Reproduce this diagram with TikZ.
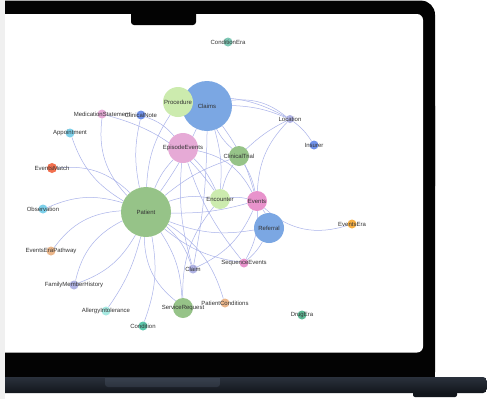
\documentclass[tikz,border=0pt]{standalone}
\usepackage{fontspec}
\newfontfamily\labfont{Liberation Sans}
\usetikzlibrary{backgrounds}
\pgfdeclarelayer{frame}
\pgfdeclarelayer{edges}
\pgfsetlayers{frame,edges,main}
\definecolor{edgec}{HTML}{AAB3EA}
\definecolor{labc}{HTML}{333333}
\definecolor{cBlue}{HTML}{7BA7E3}
\definecolor{cLGreen}{HTML}{CCEBAE}
\definecolor{cPink}{HTML}{E6AAD6}
\definecolor{cGreen}{HTML}{96C388}
\definecolor{cHot}{HTML}{E893CC}
\definecolor{cTeal}{HTML}{7EC9B6}
\definecolor{cBlue2}{HTML}{6F91EA}
\definecolor{cCyan}{HTML}{7DD0EA}
\definecolor{cLav}{HTML}{B0B3E4}
\definecolor{cRed}{HTML}{F2704F}
\definecolor{cOrange}{HTML}{F7B043}
\definecolor{cTan}{HTML}{EBB68A}
\definecolor{cLCyan}{HTML}{A7EAE2}
\definecolor{cDrug}{HTML}{5DB894}
\definecolor{cCond}{HTML}{5CC6AA}
\definecolor{lidc}{HTML}{030303}
\definecolor{basetop}{HTML}{2A313C}
\definecolor{basebot}{HTML}{12161C}
\definecolor{hingetop}{HTML}{3E4755}
\definecolor{hingebot}{HTML}{2C333E}
\definecolor{stripc}{HTML}{F0F0F0}
\tikzset{
  vx/.style={circle, inner sep=0pt, minimum size=#1},
  lab/.style={font=\labfont\fontsize{6}{7}\selectfont, text=labc, inner sep=0pt},
  edge/.style={draw=edgec, line width=0.5pt},
}
\begin{document}
\begin{tikzpicture}[x=1pt,y=-1pt]
\useasboundingbox (0,0) rectangle (487,399);
% ---------- laptop frame ----------
\begin{pgfonlayer}{frame}
\fill[white] (0,0) rectangle (487,399);
\fill[lidc, rounded corners=14pt] (-30,0.6) rectangle (435,200);
\fill[lidc, rounded corners=6pt] (-30,100) rectangle (435,378);
\fill[white, rounded corners=6pt] (-30,14) rectangle (423,352.5);
\fill[lidc, rounded corners=3pt] (131,8) rectangle (196,25);
\fill[basebot, rounded corners=2pt] (413,390) rectangle (457,397);
\shade[top color=basetop, bottom color=basebot, rounded corners=4pt] (-30,377) rectangle (487,393);
\shade[top color=hingetop, bottom color=hingebot, rounded corners=3pt] (105,373) rectangle (220,387);
\fill[basetop] (105,377) rectangle (220,377.6);
\fill[lidc] (-30,370) rectangle (435,377.2);
\fill[stripc] (0,0) rectangle (5,399);
\end{pgfonlayer}
% ---------- graph nodes ----------
\node[vx=9pt,  fill=cTeal,   label={[lab]center:ConditionEra}]        (cera)  at (228,42)  {};
\node[vx=50pt, fill=cBlue,   label={[lab]center:Claims}]              (claims) at (207,106) {};
\node[vx=30pt, fill=cLGreen, label={[lab]center:Procedure}]           (proc)  at (178,102) {};
\node[vx=9pt,  fill=cPink,   label={[lab]center:MedicationStatement}] (ms)    at (102,114) {};
\node[vx=9pt,  fill=cBlue2,  label={[lab]center:ClinicalNote}]        (cn)    at (141,115) {};
\node[vx=9pt,  fill=cCyan,   label={[lab]center:Appointment}]         (app)   at (70,133)  {};
\node[vx=8pt,  fill=cLav,    label={[lab]center:Location}]            (loc)   at (290,119) {};
\node[vx=9pt,  fill=cBlue2,  label={[lab]center:Insurer}]             (ins)   at (314,145) {};
\node[vx=30pt, fill=cPink,   label={[lab]center:EpisodeEvents}]       (epi)   at (183,148) {};
\node[vx=20pt, fill=cGreen,  label={[lab]center:ClinicalTrial}]       (ct)    at (239,156) {};
\node[vx=10pt, fill=cRed,    label={[lab]center:EventsMatch}]         (em)    at (52,168)  {};
\node[vx=9pt,  fill=cCyan,   label={[lab]center:Observation}]         (obs)   at (43,209)  {};
\node[vx=50pt, fill=cGreen,  label={[lab]center:Patient}]             (pat)   at (146,212) {};
\node[vx=20pt, fill=cLGreen, label={[lab]center:Encounter}]           (enc)   at (220,199) {};
\node[vx=20pt, fill=cHot,    label={[lab]center:Events}]              (ev)    at (257,201) {};
\node[vx=30pt, fill=cBlue,   label={[lab]center:Referral}]            (ref)   at (269,228) {};
\node[vx=9pt,  fill=cOrange, label={[lab]center:EventsEra}]           (eera)  at (352,224) {};
\node[vx=9pt,  fill=cTan,    label={[lab]center:EventsEraPathway}]    (eep)   at (51,251)  {};
\node[vx=9pt,  fill=cLav,    label={[lab]center:FamilyMemberHistory}] (fmh)   at (74,285)  {};
\node[vx=9pt,  fill=cLav,    label={[lab]center:Claim}]               (claim) at (193,269) {};
\node[vx=9pt,  fill=cHot,    label={[lab]center:SequenceEvents}]      (se)    at (244,263) {};
\node[vx=9pt,  fill=cLCyan,  label={[lab]center:AllergyIntolerance}]  (ai)    at (106,311) {};
\node[vx=20pt, fill=cGreen,  label={[lab]center:ServiceRequest}]      (sr)    at (183,308) {};
\node[vx=9pt,  fill=cTan,    label={[lab]center:PatientConditions}]   (pc)    at (225,303) {};
\node[vx=9pt,  fill=cDrug,   label={[lab]center:DrugEra}]             (drug)  at (302,315) {};
\node[vx=9pt,  fill=cCond,   label={[lab]center:Condition}]           (cond)  at (143,326) {};
% ---------- edges ----------
\begin{pgfonlayer}{edges}
\draw[edge] (pat) to[bend right=25] (em);
\draw[edge] (pat) to[bend right=20] (obs);
\draw[edge] (pat) to[bend right=25] (eep);
\draw[edge] (pat) to[bend right=25] (fmh);
\draw[edge] (pat) to[bend left=20] (fmh);
\draw[edge] (pat) to[bend left=10] (ai);
\draw[edge] (pat) to[bend left=15] (cond);
\draw[edge] (pat) to[bend right=25] (sr);
\draw[edge] (pat) to[bend left=15] (sr);
\draw[edge] (pat) to[bend left=20] (pc);
\draw[edge] (pat) to[bend left=15] (claim);
\draw[edge] (pat) to[bend right=15] (se);
\draw[edge] (pat) to[bend right=15] (ref);
\draw[edge] (pat) to[bend right=8] (ev);
\draw[edge] (pat) to[bend left=15] (enc);
\draw[edge] (pat) to[bend left=10] (epi);
\draw[edge] (pat) to[bend left=15] (proc);
\draw[edge] (pat) to[bend right=5] (claims);
\draw[edge] (pat) to[bend left=10] (ct);
\draw[edge] (pat) to[bend left=25] (ms);
\draw[edge] (pat) to[bend left=12] (cn);
\draw[edge] (pat) to[bend left=20] (app);
\draw[edge] (ms) to[bend left=20] (enc);
\draw[edge] (cn) to[bend left=15] (epi);
\draw[edge] (claims) to[bend left=10] (loc);
\draw[edge] (claims) to[bend left=22] (loc);
\draw[edge] (proc) to[bend left=18] (loc);
\draw[edge] (loc) to[bend left=10] (ins);
\draw[edge] (loc) to[bend right=8] (ct);
\draw[edge] (loc) to[bend right=20] (ev);
\draw[edge] (claims) to[bend left=10] (enc);
\draw[edge] (claims) to[bend left=5] (claim);
\draw[edge] (claims) to[bend left=10] (ev);
\draw[edge] (claims) to[bend right=10] (ct);
\draw[edge] (epi) to[bend left=25] (ev);
\draw[edge] (epi) to[bend left=10] (enc);
\draw[edge] (epi) to[bend right=10] (se);
\draw[edge] (epi) to[bend right=10] (claim);
\draw[edge] (ct) to[bend right=10] (enc);
\draw[edge] (ct) to[bend left=10] (ev);
\draw[edge] (enc) to[bend left=10] (ev);
\draw[edge] (enc) to[bend right=20] (sr);
\draw[edge] (ev) to[bend left=10] (ref);
\draw[edge] (ev) to[bend left=15] (se);
\draw[edge] (ev) to[bend left=20] (claim);
\draw[edge] (ev) to[bend right=30] (eera);
\draw[edge] (ref) to[bend left=10] (se);
\end{pgfonlayer}
\end{tikzpicture}
\end{document}
